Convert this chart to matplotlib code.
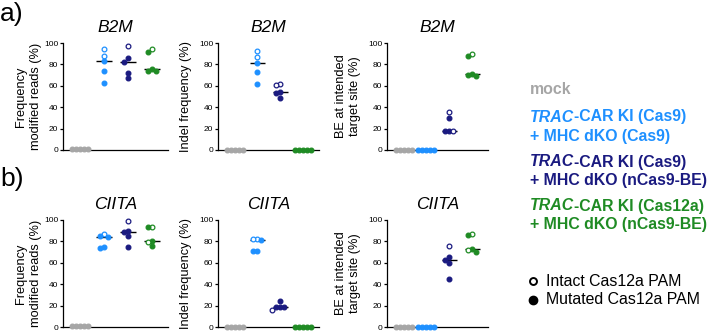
import matplotlib
matplotlib.use("Agg")
import matplotlib.pyplot as plt
import numpy as np

plt.rcParams['font.family'] = ['Liberation Sans', 'DejaVu Sans']

# groups: mock, TRAC KI Cas9 + dKO Cas9, TRAC KI Cas9 + dKO nCas9-BE, TRAC KI Cas12a + dKO nCas9-BE
group_colors = ['#a6a6a6', '#1e90ff', '#1a1a80', '#1f8b24']

genes = ['B2M', 'CIITA']
ylabels = ['Frequency\nmodified reads (%)', 'Indel frequency (%)', 'BE at intended\ntarget site (%)']

# values per group (5 donors each)
b2m_freq = [[1, 1, 1, 1, 1],
            [94, 88, 83.5, 74, 63],
            [97.5, 86, 82.5, 72, 67.5],
            [94, 92, 76, 74, 74]]
b2m_freq_intact = [[0, 0, 0, 0, 0], [1, 1, 0, 0, 0], [1, 0, 0, 0, 0], [1, 0, 0, 0, 0]]

b2m_indel = [[0, 0, 0, 0, 0],
             [92.5, 87, 81.5, 72.5, 61.5],
             [62, 60.5, 54, 53, 48.5],
             [0, 0, 0, 0, 0]]
b2m_indel_intact = [[0, 0, 0, 0, 0], [1, 1, 0, 0, 0], [1, 1, 0, 0, 0], [0, 0, 0, 0, 0]]

b2m_be = [[0, 0, 0, 0, 0],
          [0, 0, 0, 0, 0],
          [35.5, 29.5, 18, 18, 17.5],
          [89.5, 87.5, 71, 70, 69.5]]
b2m_be_intact = [[0, 0, 0, 0, 0], [0, 0, 0, 0, 0], [1, 0, 0, 0, 1], [1, 0, 0, 0, 0]]

ciita_freq = [[1, 1, 1, 1, 1],
              [87, 85, 84, 74.5, 74],
              [99.5, 90, 88.5, 85, 74.5],
              [93.5, 93.5, 80, 79, 76]]
ciita_freq_intact = [[0, 0, 0, 0, 0], [1, 0, 0, 0, 0], [1, 0, 0, 0, 0], [1, 0, 0, 1, 0]]

ciita_indel = [[0, 0, 0, 0, 0],
               [82.5, 82, 81, 71, 71],
               [24.5, 18.5, 18.5, 18.5, 16],
               [0, 0, 0, 0, 0]]
ciita_indel_intact = [[0, 0, 0, 0, 0], [1, 1, 0, 0, 0], [0, 0, 0, 0, 1], [0, 0, 0, 0, 0]]

ciita_be = [[0, 0, 0, 0, 0],
            [0, 0, 0, 0, 0],
            [76, 65, 62.5, 60, 45],
            [86.5, 86, 73, 72, 70]]
ciita_be_intact = [[0, 0, 0, 0, 0], [0, 0, 0, 0, 0], [1, 0, 0, 0, 0], [1, 0, 0, 1, 0]]

panels = [[(b2m_freq, b2m_freq_intact), (b2m_indel, b2m_indel_intact), (b2m_be, b2m_be_intact)],
          [(ciita_freq, ciita_freq_intact), (ciita_indel, ciita_indel_intact), (ciita_be, ciita_be_intact)]]

W, H = 708, 331
fig = plt.figure(figsize=(W / 100, H / 100), dpi=100)

# layout in pixels
col_left = [63, 218, 387]
col_width = [105, 101, 101]
row_top = [43, 220]
row_bottom = [150, 327]
label_x = [-0.2, -0.255, -0.255]


def swarm(ax, center, values, step=4.0):
    """simple beeswarm: push points sideways until they don't overlap (in pixels)"""
    vals = np.asarray(values, dtype=float)
    pix = ax.transData.transform(np.column_stack([np.full(len(vals), center), vals]))
    xc = pix[0, 0]
    placed = []
    xs = np.zeros(len(vals))
    offsets = [0]
    for k in range(1, 10):
        offsets += [-k, k]
    for i in np.argsort(-vals, kind='stable'):
        y = pix[i, 1]
        for k in offsets:
            x = xc + k * step
            if all(np.hypot(x - px, y - py) >= step * 0.99 for px, py in placed):
                break
        placed.append((x, y))
        xs[i] = x
    back = ax.transData.inverted().transform(np.column_stack([xs, pix[:, 1]]))
    return back[:, 0]


for r in range(2):
    for c in range(3):
        l = col_left[c] / W
        b = 1 - row_bottom[r] / H
        h = (row_bottom[r] - row_top[r]) / H
        ax = fig.add_axes([l, b, col_width[c] / W, h])
        ax.set_xlim(-0.72, 3.68)
        ax.set_ylim(0, 100)
        ax.set_yticks(np.arange(0, 101, 20))
        ax.set_xticks([])
        for s in ['top', 'right']:
            ax.spines[s].set_visible(False)
        for s in ['left', 'bottom']:
            ax.spines[s].set_linewidth(0.9)
        ax.tick_params(axis='y', labelsize=6, length=2.5, width=0.9, pad=1)
        ax.set_title(genes[r], style='italic', fontsize=12.5, pad=8)
        ax.set_ylabel(ylabels[c], fontsize=9.2, linespacing=1.3)
        ax.yaxis.set_label_coords(label_x[c], 0.5)

        vals, intact = panels[r][c]
        for g in range(4):
            col = group_colors[g]
            xs = swarm(ax, g, vals[g])
            med = np.median(vals[g])
            ax.plot([g - 0.33, g + 0.33], [med, med], color='black', lw=1.0,
                    zorder=2, clip_on=False, solid_capstyle='butt')
            for x, y, o in zip(xs, vals[g], intact[g]):
                ax.plot(x, y, 'o', ms=3.4, mec=col, mfc='white' if o else col,
                        mew=0.9, zorder=3, clip_on=False)

# panel letters
fig.text(0, 1 - 14 / H, 'a)', fontsize=19, va='center', ha='left')
fig.text(0, 1 - 179 / H, 'b)', fontsize=19, va='center', ha='left')

# legend on an overlay axes in pixel coordinates
lax = fig.add_axes([0, 0, 1, 1])
lax.set_xlim(0, W)
lax.set_ylim(H, 0)
lax.axis('off')

renderer = fig.canvas.get_renderer()


def label(x, y, parts, color):
    for text, italic in parts:
        t = lax.text(x, y, text, fontsize=11.4, fontweight='bold', color=color,
                     style='italic' if italic else 'normal', va='center', ha='left')
        bb = t.get_window_extent(renderer=renderer)
        x += bb.width


label(530, 90, [('mock', False)], group_colors[0])
label(530, 117, [('TRAC', True), ('-CAR KI (Cas9)', False)], group_colors[1])
label(530, 136, [('+ MHC dKO (Cas9)', False)], group_colors[1])
label(530, 162, [('TRAC', True), ('-CAR KI (Cas9)', False)], group_colors[2])
label(530, 181, [('+ MHC dKO (nCas9-BE)', False)], group_colors[2])
label(530, 206, [('TRAC', True), ('-CAR KI (Cas12a)', False)], group_colors[3])
label(530, 225, [('+ MHC dKO (nCas9-BE)', False)], group_colors[3])

lax.plot(533, 281, 'o', ms=5, mfc='white', mec='black', mew=1.4)
lax.plot(533, 300, 'o', ms=6, mfc='black', mec='black')
lax.text(546, 281, 'Intact Cas12a PAM', fontsize=11.4, va='center', ha='left')
lax.text(546, 300, 'Mutated Cas12a PAM', fontsize=11.4, va='center', ha='left')

fig.savefig('out.png', dpi=100)
